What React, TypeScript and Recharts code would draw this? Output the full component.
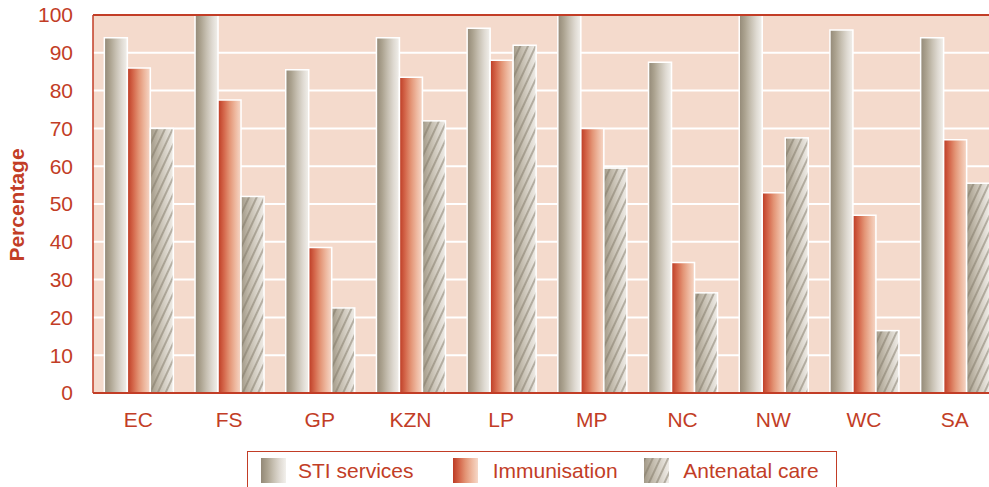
import { BarChart, Bar, XAxis, YAxis, CartesianGrid, Legend, ReferenceLine } from 'recharts';

const categories = ['EC', 'FS', 'GP', 'KZN', 'LP', 'MP', 'NC', 'NW', 'WC', 'SA'];
const stiServices = [94, 100, 85.5, 94, 96.5, 100, 87.5, 100, 96, 94];
const immunisation = [86, 77.5, 38.5, 83.5, 88, 70, 34.5, 53, 47, 67];
const antenatalCare = [70, 52, 22.5, 72, 92, 59.5, 26.5, 67.5, 16.5, 55.5];
const yTicks = [0, 10, 20, 30, 40, 50, 60, 70, 80, 90, 100];

const seriesNames = ['STI services', 'Immunisation', 'Antenatal care'];

const data = categories.map((c, i) => ({
  name: c,
  sti: stiServices[i],
  imm: immunisation[i],
  ante: antenatalCare[i],
}));

const RED = '#c23d26';
const FONT = '"Liberation Sans", Arial, sans-serif';

// hatched bar: gradient fill plus diagonal stripes on top
function HatchBar(props: any) {
  const { x, y, width, height } = props;
  if (!height || height <= 0) return null;
  return (
    <g>
      <rect x={x} y={y} width={width} height={height} fill="url(#anteGrad)" />
      <rect x={x} y={y} width={width} height={height} fill="url(#hatch)" stroke="#fff" strokeWidth={1.5} />
    </g>
  );
}

function Swatch({ kind }: { kind: string }) {
  return (
    <svg width={25} height={25} style={{ display: 'block' }}>
      {kind === 'ante' ? (
        <>
          <rect width={25} height={25} fill="url(#anteGrad)" />
          <rect width={25} height={25} fill="url(#hatch)" />
        </>
      ) : (
        <rect width={25} height={25} fill={kind === 'sti' ? 'url(#stiGrad)' : 'url(#immGrad)'} />
      )}
    </svg>
  );
}

function LegendBox() {
  const kinds = ['sti', 'imm', 'ante'];
  const textGap = [12, 15, 14];
  return (
    <div
      style={{
        border: `1.5px solid ${RED}`,
        height: 45,
        boxSizing: 'border-box',
        display: 'flex',
        alignItems: 'flex-start',
        paddingLeft: 13,
        paddingTop: 6,
        background: '#fff',
      }}
    >
      {kinds.map((k, i) => (
        <div key={k} style={{ display: 'flex', alignItems: 'center', width: 194 }}>
          <Swatch kind={k} />
          <span style={{ marginLeft: textGap[i], color: RED, fontSize: 21, fontFamily: FONT, whiteSpace: 'nowrap' }}>
            {seriesNames[i]}
          </span>
        </div>
      ))}
    </div>
  );
}

export default function App() {
  return (
    <div style={{ position: 'fixed', left: 0, top: 0, width: 989, height: 487, overflow: 'hidden', background: '#fff' }}>
      <BarChart
        width={1000}
        height={500}
        data={data}
        margin={{ top: 15, right: 0, bottom: 77, left: 0 }}
        barCategoryGap="12.5%"
        barGap={0}
      >
        <defs>
          <linearGradient id="stiGrad" x1="0" y1="0" x2="1" y2="0">
            <stop offset="0%" stopColor="#938977" />
            <stop offset="25%" stopColor="#aca390" />
            <stop offset="50%" stopColor="#c7c0b2" />
            <stop offset="75%" stopColor="#dfdad2" />
            <stop offset="100%" stopColor="#f2f0ec" />
          </linearGradient>
          <linearGradient id="immGrad" x1="0" y1="0" x2="1" y2="0">
            <stop offset="0%" stopColor="#bd3b24" />
            <stop offset="25%" stopColor="#d4664a" />
            <stop offset="50%" stopColor="#e39475" />
            <stop offset="75%" stopColor="#eeb89f" />
            <stop offset="100%" stopColor="#f6d8c8" />
          </linearGradient>
          <linearGradient id="anteGrad" x1="0" y1="0" x2="1" y2="0">
            <stop offset="0%" stopColor="#a39a88" />
            <stop offset="40%" stopColor="#c5beb0" />
            <stop offset="100%" stopColor="#f0ede8" />
          </linearGradient>
          <pattern id="hatch" patternUnits="userSpaceOnUse" width={7} height={10} patternTransform="rotate(25)">
            <line x1={1} y1={0} x2={1} y2={10} stroke="#7f7665" strokeWidth={1.4} strokeOpacity={0.7} />
          </pattern>
        </defs>
        <CartesianGrid vertical={false} stroke="#ffffff" strokeWidth={2} fill="#f4dacc" />
        <XAxis
          dataKey="name"
          height={30}
          axisLine={{ stroke: RED, strokeWidth: 2 }}
          tickLine={false}
          tickSize={0}
          tickMargin={19}
          tick={{ fill: RED, fontSize: 21, fontFamily: FONT }}
          interval={0}
        />
        <YAxis
          width={93}
          domain={[0, 100]}
          ticks={yTicks}
          axisLine={{ stroke: RED, strokeWidth: 1.5 }}
          tickLine={false}
          tickSize={0}
          tickMargin={20}
          tick={{ fill: RED, fontSize: 21, fontFamily: FONT }}
          label={{
            content: () => (
              <text
                x={16}
                y={205}
                transform="rotate(-90 16 205)"
                textAnchor="middle"
                dominantBaseline="central"
                fill={RED}
                fontSize={21}
                fontWeight="bold"
                fontFamily={FONT}
              >
                Percentage
              </text>
            ),
          }}
        />
        <ReferenceLine y={100} stroke={RED} strokeWidth={2} />
        <Bar dataKey="sti" name={seriesNames[0]} fill="url(#stiGrad)" stroke="#fff" strokeWidth={1.5} isAnimationActive={false} />
        <Bar dataKey="imm" name={seriesNames[1]} fill="url(#immGrad)" stroke="#fff" strokeWidth={1.5} isAnimationActive={false} />
        <Bar dataKey="ante" name={seriesNames[2]} shape={<HatchBar />} isAnimationActive={false} />
        <Legend
          layout="horizontal"
          verticalAlign="middle"
          align="center"
          content={() => <LegendBox />}
          wrapperStyle={{ top: 451, left: 247, width: 590, height: 45 }}
        />
      </BarChart>
    </div>
  );
}
